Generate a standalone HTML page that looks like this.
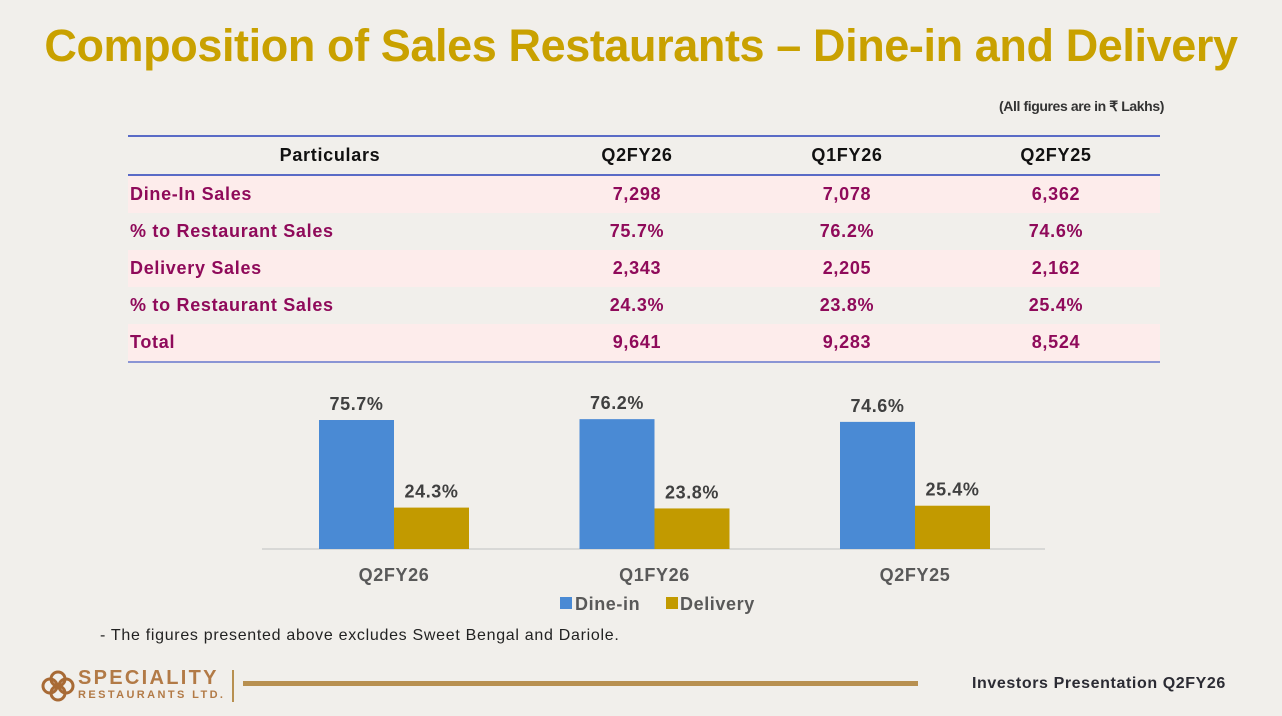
<!DOCTYPE html>
<html><head><meta charset="utf-8">
<style>
body{margin:0;width:1282px;height:716px;overflow:hidden;background:#f1efeb;font-family:"Liberation Sans",sans-serif;position:relative}
.abs{position:absolute}
#title{left:0;width:1282px;top:20px;text-align:center;font-size:45px;font-weight:bold;color:#c9a100;letter-spacing:-0.4px;white-space:nowrap}
#note{right:118px;top:98px;font-size:14px;font-weight:bold;color:#333;letter-spacing:-0.4px}
table{position:absolute;left:128px;top:135px;width:1032px;border-collapse:collapse;font-weight:bold;font-size:18px;letter-spacing:0.7px}
td,th{height:37px;padding:0;text-align:center}
th{color:#111;border-top:2px solid #5a6bc6;border-bottom:2px solid #5a6bc6}
td{color:#8f0a5a}
td:first-child{text-align:left;padding-left:2px}
tr.pk td{background:#fdeceb}
tr:last-child td{border-bottom:2px solid #8a95d4}
</style></head><body>
<div id="title" class="abs">Composition of Sales Restaurants – Dine-in and Delivery</div>
<div id="note" class="abs">(All figures are in ₹ Lakhs)</div>
<table>
<colgroup><col style="width:404px"><col style="width:210px"><col style="width:210px"><col style="width:208px"></colgroup>
<tr><th style="text-align:center">Particulars</th><th>Q2FY26</th><th>Q1FY26</th><th>Q2FY25</th></tr>
<tr class="pk"><td>Dine-In Sales</td><td>7,298</td><td>7,078</td><td>6,362</td></tr>
<tr><td>% to Restaurant Sales</td><td>75.7%</td><td>76.2%</td><td>74.6%</td></tr>
<tr class="pk"><td>Delivery Sales</td><td>2,343</td><td>2,205</td><td>2,162</td></tr>
<tr><td>% to Restaurant Sales</td><td>24.3%</td><td>23.8%</td><td>25.4%</td></tr>
<tr class="pk"><td>Total</td><td>9,641</td><td>9,283</td><td>8,524</td></tr>
</table>
<svg id="chart" class="abs" style="left:0;top:0" width="1282" height="716"></svg>
<div class="abs" style="left:100px;top:627px;font-size:16px;letter-spacing:0.7px;color:#222;white-space:nowrap">- The figures presented above excludes Sweet Bengal and Dariole.</div>
<svg class="abs" style="left:38px;top:668px" width="40" height="36">
<g fill="none" stroke="#a86a35" stroke-width="3"><circle cx="20" cy="11" r="7"/><circle cx="20" cy="25" r="7"/><circle cx="12" cy="18" r="7"/><circle cx="28" cy="18" r="7"/></g></svg>
<div class="abs" style="left:78px;top:668px;color:#b27a46;font-weight:bold;font-size:20px;letter-spacing:2.3px;line-height:20px">SPECIALITY<div style="font-size:11px;letter-spacing:2.4px;line-height:14px">RESTAURANTS LTD.</div></div>
<div class="abs" style="left:232px;top:670px;width:2px;height:32px;background:#b89050"></div>
<div class="abs" style="left:243px;top:681px;width:675px;height:5px;background:#b89050"></div>
<div class="abs" style="left:972px;top:675px;font-size:16px;letter-spacing:0.6px;font-weight:bold;color:#2b2b33;white-space:nowrap">Investors Presentation Q2FY26</div>
<script>
const categories=["Q2FY26","Q1FY26","Q2FY25"];
const dineIn=[75.7,76.2,74.6];
const delivery=[24.3,23.8,25.4];
const NS="http://www.w3.org/2000/svg";
const svg=document.getElementById('chart');
const base=549, pxPer=1.704, x0=394, step=260.5, bw=75;
const y=v=>base-v*pxPer;
const xc=i=>x0+i*step;
function mk(t,a){const e=document.createElementNS(NS,t);for(const k in a)e.setAttribute(k,a[k]);svg.appendChild(e);return e;}
const ax=mk('line',{x1:262,x2:1045,y1:base,y2:base,stroke:'#d0d0d0','stroke-width':1.5});


function lbl(x,yy,s,sz,col,name){const t=mk('text',{x:x,y:yy,'text-anchor':'middle','font-size':sz,'font-weight':'bold',fill:col,'letter-spacing':'0.6','font-family':'Liberation Sans, sans-serif'});t.textContent=s;

return t;}
categories.forEach((c,i)=>{
 const b1=mk('rect',{x:xc(i)-bw,y:y(dineIn[i]),width:bw,height:base-y(dineIn[i]),fill:'#4a8ad4'});
 
 
 const b2=mk('rect',{x:xc(i),y:y(delivery[i]),width:bw,height:base-y(delivery[i]),fill:'#c29a00'});
 
 
 lbl(xc(i)-bw/2,y(dineIn[i])-10,dineIn[i].toFixed(1)+'%',18,'#404040','value-label');
 lbl(xc(i)+bw/2,y(delivery[i])-10,delivery[i].toFixed(1)+'%',18,'#404040','value-label');
 lbl(xc(i),581,c,18,'#595959','x-tick-label');
});
const l1=mk('rect',{x:560,y:597,width:12,height:12,fill:'#4a8ad4'});


const l2=mk('rect',{x:666,y:597,width:12,height:12,fill:'#c29a00'});


const t1=lbl(575,610,'Dine-in',18,'#595959','legend-entry-dine-in');t1.setAttribute('text-anchor','start');
const t2=lbl(680,610,'Delivery',18,'#595959','legend-entry-delivery');t2.setAttribute('text-anchor','start');
</script>
</body></html>
